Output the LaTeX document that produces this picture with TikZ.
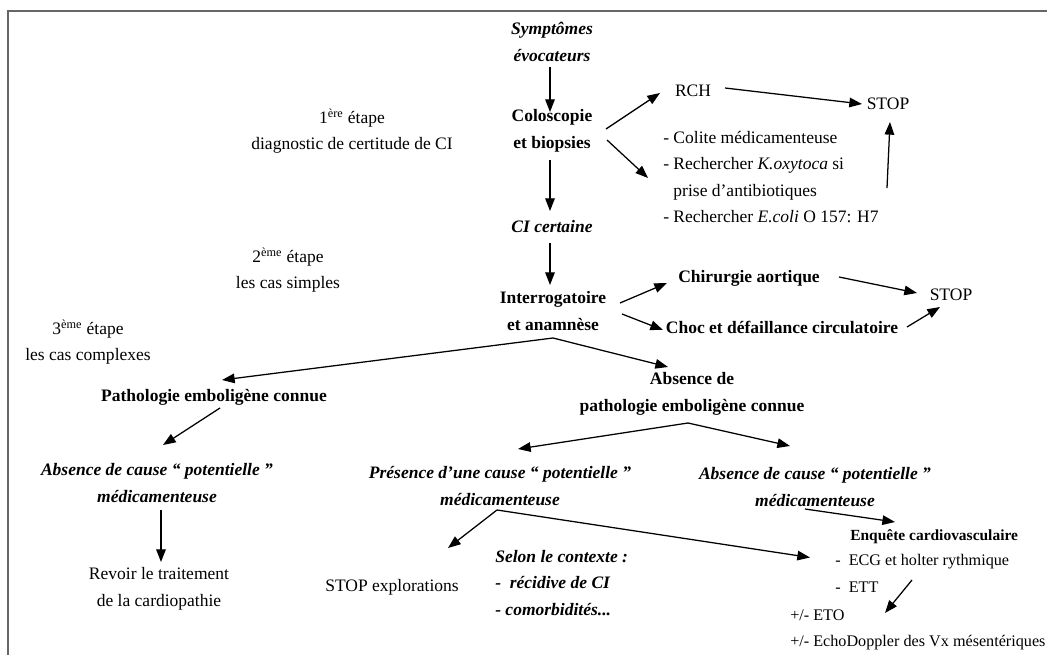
\documentclass[tikz,border=0pt]{standalone}
\usepackage{fontspec}
\setmainfont{Liberation Serif}
\usetikzlibrary{arrows.meta,calc}
\newcommand{\txtsize}{\fontsize{12.45}{18.85}\selectfont}
\newcommand{\petitsize}{\fontsize{11.5}{18.85}\selectfont}
\begin{document}
\begin{tikzpicture}[x=0.025cm, y=-0.025cm, >={Triangle[length=9pt,width=6.8pt]},
        every node/.style={inner sep=0pt, font=\txtsize, align=center},
        gras/.style={font=\txtsize\bfseries},
        grasit/.style={font=\txtsize\bfseries\itshape},
        petit/.style={font=\petitsize},
        fleche/.style={->, line width=0.9pt}]
        \useasboundingbox (0,0) rectangle (1047,655);
        \draw[line width=1.4pt, black!60] (8,655) -- (8,11) -- (1047,11);

        \node (etapeA) at (352,131) {1\textsuperscript{ère} étape\\diagnostic de certitude de CI};
        \node (etapeB) at (288,270) {2\textsuperscript{ème} étape\\les cas simples};
        \node (etapeC) at (88,342) {3\textsuperscript{ème} étape\\les cas complexes};

        \node (symptomes) at (552,42) [grasit] {Symptômes\\évocateurs};
        \node (colo) at (552,131) [gras] {Coloscopie\\et biopsies};
        \node (certaine) at (552,227) [grasit] {CI certaine};
        \node (interro) at (553,311) [gras] {Interrogatoire\\et anamnèse};
        \node (rch) at (693,91) {RCH};
        \node (stopA) at (888,104) {STOP};
        \node (colite) at (663,177) [anchor=west, align=left] {- Colite médicamenteuse\\- Rechercher \textit{K.oxytoca} si\\\hphantom{- }prise d’antibiotiques\\- Rechercher \textit{E.coli} O 157: H7};
        \node (chir) at (749,278) [gras] {Chirurgie aortique};
        \node (choc) at (782,327) [gras] {Choc et défaillance circulatoire};
        \node (stopB) at (951,295) {STOP};

        \node (patho) at (214,397) [gras] {Pathologie emboligène connue};
        \node (absPatho) at (692,394) [gras] {Absence de\\pathologie emboligène connue};
        \node (absCauseA) at (157,483) [grasit] {Absence de cause “ potentielle ”\\médicamenteuse};
        \node (revoir) at (159,589) {Revoir le traitement\\de la cardiopathie};
        \node (presence) at (500,486) [grasit] {Présence d’une cause “ potentielle ”\\médicamenteuse};
        \node (absCauseB) at (815,487) [grasit] {Absence de cause “ potentielle ”\\médicamenteuse};
        \node (stopExpl) at (392,587) {STOP explorations};
        \node (selon) at (495,583) [grasit, anchor=west, align=left] {Selon le contexte :\\-\ \ récidive de CI\\- comorbidités...};
        \node (enquete) at (850,537) [anchor=west, font=\fontsize{11}{18.85}\selectfont\bfseries] {Enquête cardiovasculaire};
        \node (ecg) at (835,573.5) [petit, anchor=west, align=left] {-\ \ ECG et holter rythmique\\-\ \ ETT};
        \node (eto) at (790,630) [petit, anchor=west, align=left] {+/- ETO\\+/- EchoDoppler des Vx mésentériques};

        \draw[fleche] ($(symptomes)+(-2,25)$) -- ($(colo)+(-2,-19)$);
        \draw[fleche] ($(colo)+(-2,29)$) -- ($(certaine)+(-2,-16)$);
        \draw[fleche] ($(certaine)+(-2,16)$) -- ($(interro)+(-3,-26)$);
        \draw[fleche] ($(colo)+(54,-2)$) -- ($(rch)+(-33,2)$);
        \draw[fleche] ($(colo)+(55,9)$) -- ($(colite.west)+(-15,1)$);
        \draw[fleche] ($(rch)+(32,-3)$) -- ($(stopA)+(-26,0)$);
        \draw[fleche] ($(colite.west)+(224,11)$) -- ($(stopA)+(2,18)$);
        \draw[fleche] ($(interro)+(67,-8)$) -- ($(chir)+(-82,5)$);
        \draw[fleche] ($(interro)+(69,3)$) -- ($(choc)+(-119,3)$);
        \draw[fleche] ($(chir)+(90,-1)$) -- ($(stopB)+(-34,-2)$);
        \draw[fleche] ($(choc)+(125,0)$) -- ($(stopB)+(-11,12)$);
        \draw[fleche] ($(interro)+(0,27)$) -- ($(patho)+(8,-17)$);
        \draw[fleche] ($(interro)+(0,27)$) -- ($(absPatho)+(-24,-27)$);
        \draw[fleche] ($(absPatho)+(-4,29)$) -- ($(presence)+(18,-37)$);
        \draw[fleche] ($(absPatho)+(-4,29)$) -- ($(absCauseB)+(-25,-41)$);
        \draw[fleche] ($(patho)+(6,11)$) -- ($(absCauseA)+(6,-38)$);
        \draw[fleche] ($(absCauseA)+(4,27)$) -- ($(revoir)+(2,-27)$);
        \draw[fleche] ($(presence)+(-3,24)$) -- ($(stopExpl)+(56,-39)$);
        \draw[fleche] ($(presence)+(-3,24)$) -- ($(ecg.west)+(-25,-16)$);
        \draw[fleche] ($(absCauseB)+(-10,22)$) -- ($(enquete.west)+(45,-15)$);
        \draw[fleche] ($(ecg.west)+(77,6.5)$) -- ($(eto.west)+(95,-17)$);
\end{tikzpicture}
\end{document}
